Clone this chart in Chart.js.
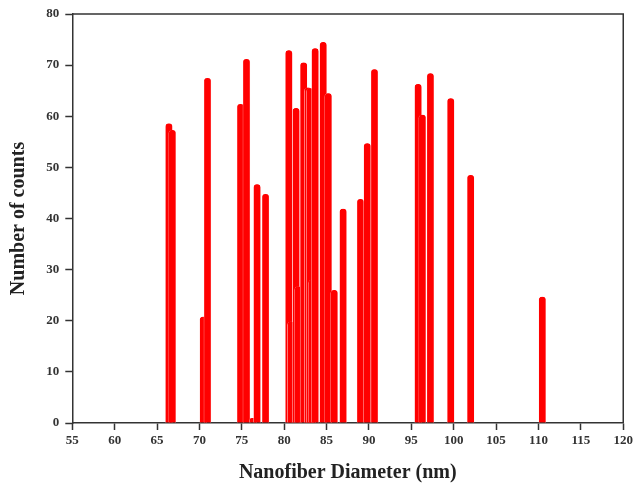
<!DOCTYPE html>
<html>
<head>
<meta charset="utf-8">
<script src="https://cdn.jsdelivr.net/npm/chart.js@4/dist/chart.umd.min.js"></script>
<style>
  html, body { margin: 0; padding: 0; background: #fff; }
  #wrap { width: 636px; height: 485px; }
</style>
</head>
<body>
<div id="wrap"><canvas id="diam"></canvas></div>
<script>
// nanofiber diameters (nm) and their counts
const diameters = [66.4, 66.8, 70.45, 70.95, 74.85, 75.55, 76.35, 76.8, 77.8,
    80.55, 80.8, 81.4, 81.65, 82.3, 82.8, 83.05, 83.3, 83.65, 84.6, 85.2, 85.9, 86.95,
    89.0, 89.8, 90.65, 95.8, 96.3, 97.25, 99.65, 102.0, 110.45];
const counts = [58.6, 57.3, 20.8, 67.5, 62.4, 71.2, 1, 46.7, 44.8,
    72.9, 19.8, 61.6, 26.7, 70.5, 65.6, 65.5, 28, 73.3, 74.5, 64.5, 26, 41.9,
    43.8, 54.7, 69.2, 66.3, 60.3, 68.4, 63.5, 48.5, 24.7];

const xTicks = [55, 60, 65, 70, 75, 80, 85, 90, 95, 100, 105, 110, 115, 120];
const yTicks = [0, 10, 20, 30, 40, 50, 60, 70, 80];

const serif = "'Liberation Serif', 'Times New Roman', serif";

// draw the top and right sides of the frame
const frameBox = {
    id: 'frameBox',
    afterDraw(chart) {
        const { ctx, chartArea: a } = chart;
        ctx.save();
        ctx.strokeStyle = '#333';
        ctx.lineWidth = 1.5;
        ctx.beginPath();
        ctx.moveTo(a.left, a.top);
        ctx.lineTo(a.right, a.top);
        ctx.lineTo(a.right, a.bottom);
        ctx.stroke();
        ctx.restore();
    }
};

new Chart(document.getElementById('diam'), {
    type: 'bar',
    data: {
        datasets: [{
            label: 'Counts',
            data: diameters.map((d, i) => ({ x: d, y: counts[i] })),
            backgroundColor: '#ff0000',
            borderColor: '#ffe8e8',
            borderWidth: { left: 0.5, right: 0.5, top: 0, bottom: 0 },
            borderSkipped: 'bottom',
            borderRadius: { topLeft: 3.5, topRight: 3.5 },
            barThickness: 7
        }]
    },
    options: {
        responsive: true,
        maintainAspectRatio: false,
        animation: false,
        layout: { padding: { top: 14, right: 12.7, left: 0, bottom: 0 } },
        plugins: {
            legend: { display: false },
            tooltip: { enabled: false }
        },
        scales: {
            x: {
                type: 'linear',
                offset: false,
                min: 55,
                max: 120,
                afterBuildTicks: s => { s.ticks = xTicks.map(v => ({ value: v })); },
                afterFit: s => { s.height = 62; },
                grid: { offset: false, drawOnChartArea: false, tickLength: 7, tickColor: '#333', tickWidth: 1.5 },
                border: { color: '#333', width: 1.5 },
                ticks: {
                    color: '#333',
                    padding: 3,
                    maxRotation: 0,
                    font: { family: serif, size: 13, weight: 'bold' }
                },
                title: {
                    display: true,
                    text: 'Nanofiber Diameter (nm)',
                    color: '#222',
                    padding: { top: 10, bottom: 0 },
                    font: { family: serif, size: 20, weight: 'bold' }
                }
            },
            y: {
                min: 0,
                max: 80,
                afterBuildTicks: s => { s.ticks = yTicks.map(v => ({ value: v })); },
                afterFit: s => { s.width = 72.3; },
                grid: { drawOnChartArea: false, tickLength: 7, tickColor: '#333', tickWidth: 1.5 },
                border: { color: '#333', width: 1.5 },
                ticks: {
                    color: '#333',
                    padding: 6,
                    font: { family: serif, size: 13, weight: 'bold' }
                },
                title: {
                    display: true,
                    text: 'Number of counts',
                    color: '#222',
                    padding: { top: 7, bottom: 0 },
                    font: { family: serif, size: 20, weight: 'bold' }
                }
            }
        }
    },
    plugins: [frameBox]
});
</script>
</body>
</html>
